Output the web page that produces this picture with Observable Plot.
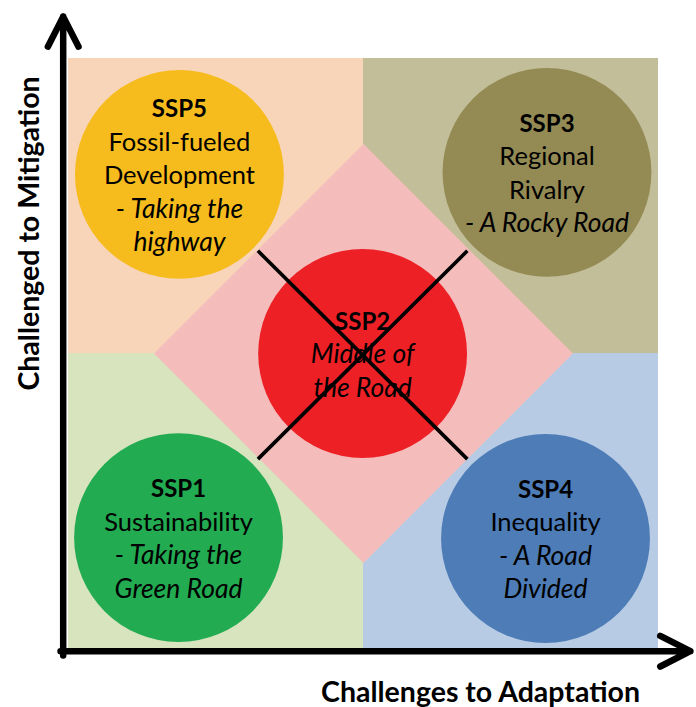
<!DOCTYPE html>
<html>
<head>
<meta charset="utf-8">
<script src="https://cdn.jsdelivr.net/npm/d3@7"></script>
<script src="https://cdn.jsdelivr.net/npm/@observablehq/plot@0.6"></script>
<style>
  html, body { margin: 0; padding: 0; background: #ffffff; }
  #chart svg { display: block; }
</style>
</head>
<body>
<div id="chart"></div>
<script>
// Quadrants (x: challenges to adaptation, y: challenges to mitigation)
const quadX1 = [0, 1, 0, 1];
const quadX2 = [1, 2, 1, 2];
const quadY1 = [1, 1, 0, 0];
const quadY2 = [2, 2, 1, 1];
const quadColors = ["#F8D4B8", "#C3BE9A", "#D8E4BE", "#B8CBE4"];

// Central diamond (SSP2 zone)
const diamondX = [0.29, 1, 1.71, 1];
const diamondY = [1, 1.71, 1, 0.29];
const diamondColor = "#F4BDBB";

// Scenarios
const scenarios = ["SSP1", "SSP2", "SSP3", "SSP4", "SSP5"];
const adaptation = [0.373, 0.997, 1.622, 1.617, 0.376];
const mitigation = [0.376, 1.0, 1.614, 0.373, 1.607];
const radius = [0.354, 0.354, 0.354, 0.354, 0.354];
const circleColors = ["#23AB52", "#ED2026", "#948A54", "#4D7CB7", "#F6BC1E"];
const names = [["Sustainability"], [], ["Regional", "Rivalry"], ["Inequality"], ["Fossil-fueled", "Development"]];
const taglines = [["- Taking the", "Green Road"], ["Middle of", "the Road"], ["- A Rocky Road"], ["- A Road", "Divided"], ["- Taking the", "highway"]];

// Cross over SSP2
const crossX1 = [0.642, 0.642];
const crossY1 = [1.348, 0.642];
const crossX2 = [1.352, 1.352];
const crossY2 = [0.642, 1.348];

const xTitle = "Challenges to Adaptation";
const yTitle = "Challenged to Mitigation";

// Build per-style multi-line strings with blank placeholders so lines stay aligned
const rows = scenarios.map((s, i) => {
  const lines = [{t: s, s: "b"}, ...names[i].map(t => ({t, s: "n"})), ...taglines[i].map(t => ({t, s: "i"}))];
  const pick = st => lines.map(l => l.s === st ? l.t : "").join("\n");
  return {x: adaptation[i], y: mitigation[i], bold: pick("b"), normal: pick("n"), italic: pick("i")};
});

const LINE = 33.5;
const FS_B = 24, FS_N = 25.5, FS_I = 26.5, FS_T = 28.5;
const font = "Lato, 'Open Sans', sans-serif";

const chart = Plot.plot({
  width: 696,
  height: 707,
  marginLeft: 68,
  marginRight: 38,
  marginTop: 58,
  marginBottom: 59,
  x: {domain: [0, 2], axis: null},
  y: {domain: [0, 2], axis: null},
  r: {type: "linear", domain: [0, 1], range: [0, 295]},
  style: {fontFamily: font, background: "#ffffff", overflow: "visible", color: "#000"},
  marks: [
    Plot.rect(quadColors, {x1: quadX1, x2: quadX2, y1: quadY1, y2: quadY2, fill: quadColors}),
    Plot.line(diamondX, {x: diamondX, y: diamondY, fill: diamondColor, stroke: null, curve: "linear-closed"}),
    Plot.dot(scenarios, {x: adaptation, y: mitigation, r: radius, fill: circleColors, stroke: null}),
    Plot.link(crossX1, {x1: crossX1, y1: crossY1, x2: crossX2, y2: crossY2, stroke: "#000", strokeWidth: 3.6}),
    Plot.text(rows, {x: "x", y: "y", text: "bold", fontSize: FS_B, fontWeight: "bold", lineHeight: LINE / FS_B, lineAnchor: "middle", dy: -1, fill: "#000"}),
    Plot.text(rows, {x: "x", y: "y", text: "normal", fontSize: FS_N, lineHeight: LINE / FS_N, lineAnchor: "middle", dy: -1, fill: "#000"}),
    Plot.text(rows, {x: "x", y: "y", text: "italic", fontSize: FS_I, fontStyle: "italic", lineHeight: LINE / FS_I, lineAnchor: "middle", dy: -1, fill: "#000"}),
    Plot.arrow([0], {x1: -0.018, y1: -0.024, x2: -0.018, y2: 2.142, stroke: "#000", strokeWidth: 6.5, headLength: 7.8, headAngle: 54, strokeLinecap: "round", strokeLinejoin: "round"}),
    Plot.arrow([0], {x1: -0.027, y1: -0.009, x2: 2.108, y2: -0.009, stroke: "#000", strokeWidth: 6.5, headLength: 7.8, headAngle: 54, strokeLinecap: "round", strokeLinejoin: "round"}),
    Plot.text([xTitle], {frameAnchor: "bottom", dx: 117, dy: 44, text: d => d, fontSize: FS_T, fontWeight: "bold", textAnchor: "middle", lineAnchor: "middle", fill: "#000"}),
    Plot.text([yTitle], {frameAnchor: "left", dx: -39, dy: -120, rotate: -90, text: d => d, fontSize: FS_T, fontWeight: "bold", textAnchor: "middle", lineAnchor: "middle", fill: "#000"})
  ]
});
document.getElementById("chart").appendChild(chart);
</script>
</body>
</html>
